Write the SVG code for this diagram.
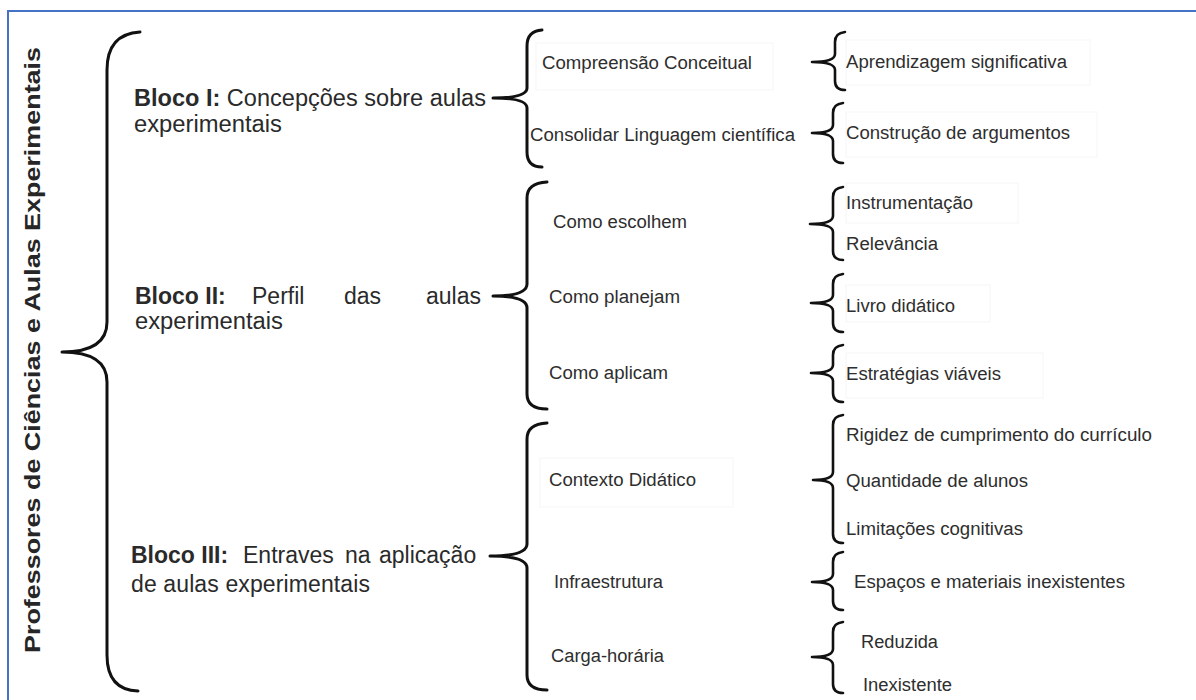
<svg xmlns="http://www.w3.org/2000/svg" width="1196" height="700" viewBox="0 0 1196 700">
<style>
.t{font-family:"Liberation Sans",Arial,sans-serif;font-size:18px;fill:#2e2e2e}
.b{font-family:"Liberation Sans",Arial,sans-serif;font-size:23px;fill:#2a2a2a}
.bd{font-weight:bold}
.ttl{font-family:"Liberation Sans",Arial,sans-serif;font-size:22px;font-weight:bold;fill:#262626}
.br{fill:none;stroke:#111;stroke-width:2.6;stroke-linecap:round;stroke-linejoin:round}
.bb{fill:none;stroke:#111;stroke-width:3;stroke-linecap:round;stroke-linejoin:round}
.fb{fill:none;stroke:#f6f6f6;stroke-width:1}
</style>
<rect x="0" y="0" width="1196" height="700" fill="#fff"/>
<rect x="8" y="11" width="1200" height="700" fill="none" stroke="#4472C4" stroke-width="2"/>

<g id="faint-boxes">
<rect class="fb" x="536" y="43" width="237" height="47"/>
<rect class="fb" x="846" y="40" width="244" height="45"/>
<rect class="fb" x="846" y="112" width="251" height="45"/>
<rect class="fb" x="846" y="183" width="172" height="40"/>
<rect class="fb" x="846" y="285" width="144" height="37"/>
<rect class="fb" x="846" y="353" width="197" height="45"/>
<rect class="fb" x="540" y="458" width="193" height="49"/>
</g>

<g id="connectors">
<path class="bb" d="M140,32 Q107,34 107,70 L107,322 Q107,352 62,352 Q107,352 107,382 L107,655 Q107,690 138,691"/>
<path class="bb" d="M542,30 Q527,31 527,46 L527,88 Q527,98 493,98 Q527,98 527,108 L527,152 Q527,167 542,167"/>
<path class="bb" d="M547,182 Q527,183 527,198 L527,284 Q527,296 493,296 Q527,296 527,308 L527,394 Q527,409 547,409"/>
<path class="bb" d="M547,423 Q527,424 527,439 L527,544 Q527,556 490,556 Q527,556 527,568 L527,675 Q527,690 547,690"/>
<path class="br" d="M845,32 Q835,33 835,42 L835,54 Q835,62 812,62 Q835,62 835,70 L835,81 Q835,90 845,90"/>
<path class="br" d="M843,103 Q833,104 833,113 L833,125 Q833,133 812,133 Q833,133 833,141 L833,154 Q833,163 843,163"/>
<path class="br" d="M843,187 Q833,188 833,197 L833,216 Q833,224 810,224 Q833,224 833,232 L833,251 Q833,260 843,260"/>
<path class="br" d="M843,274 Q833,275 833,284 L833,295 Q833,303 811,303 Q833,303 833,311 L833,323 Q833,332 843,332"/>
<path class="br" d="M843,345 Q833,346 833,355 L833,365 Q833,373 811,373 Q833,373 833,381 L833,393 Q833,402 843,402"/>
<path class="br" d="M843,415 Q833,416 833,425 L833,472 Q833,480 813,480 Q833,480 833,488 L833,534 Q833,543 843,543"/>
<path class="br" d="M843,552 Q833,553 833,562 L833,574 Q833,582 812,582 Q833,582 833,590 L833,601 Q833,610 843,610"/>
<path class="br" d="M843,622 Q833,623 833,632 L833,649 Q833,657 812,657 Q833,657 833,665 L833,684 Q833,693 843,693"/>
</g>

<g id="title">
<text class="ttl" transform="translate(40,653) rotate(-90)" x="0" y="0" textLength="606" lengthAdjust="spacingAndGlyphs">Professores de Ciências e Aulas Experimentais</text>
</g>

<g id="bloco1">
<text class="b" x="134" y="106" textLength="352" lengthAdjust="spacingAndGlyphs"><tspan class="bd">Bloco I:</tspan> Concepções sobre aulas</text>
<text class="b" x="134" y="132" textLength="148" lengthAdjust="spacingAndGlyphs">experimentais</text>
</g>
<g id="bloco2">
<text class="b bd" x="135" y="304">Bloco II:</text>
<text class="b" x="252" y="304">Perfil</text>
<text class="b" x="344" y="304">das</text>
<text class="b" x="426" y="304">aulas</text>
<text class="b" x="135" y="329" textLength="148" lengthAdjust="spacingAndGlyphs">experimentais</text>
</g>
<g id="bloco3">
<text class="b bd" x="131" y="563">Bloco III:</text>
<text class="b" x="243" y="563">Entraves</text>
<text class="b" x="345" y="563">na</text>
<text class="b" x="379" y="563">aplicação</text>
<text class="b" x="131" y="592" textLength="239" lengthAdjust="spacing">de aulas experimentais</text>
</g>

<g id="compreensao"><text class="t" x="542" y="69" textLength="210" lengthAdjust="spacingAndGlyphs">Compreensão Conceitual</text></g>
<g id="consolidar"><text class="t" x="530" y="141" textLength="265" lengthAdjust="spacingAndGlyphs">Consolidar Linguagem científica</text></g>
<g id="aprendizagem"><text class="t" x="846" y="68" textLength="221" lengthAdjust="spacingAndGlyphs">Aprendizagem significativa</text></g>
<g id="construcao"><text class="t" x="846" y="139" textLength="224" lengthAdjust="spacingAndGlyphs">Construção de argumentos</text></g>

<g id="escolhem"><text class="t" x="553" y="228" textLength="134" lengthAdjust="spacingAndGlyphs">Como escolhem</text></g>
<g id="planejam"><text class="t" x="549" y="303" textLength="131" lengthAdjust="spacingAndGlyphs">Como planejam</text></g>
<g id="aplicam"><text class="t" x="549" y="379" textLength="119" lengthAdjust="spacingAndGlyphs">Como aplicam</text></g>
<g id="instrumentacao"><text class="t" x="846" y="209" textLength="127" lengthAdjust="spacingAndGlyphs">Instrumentação</text></g>
<g id="relevancia"><text class="t" x="846" y="250" textLength="92" lengthAdjust="spacingAndGlyphs">Relevância</text></g>
<g id="livro"><text class="t" x="846" y="312" textLength="109" lengthAdjust="spacingAndGlyphs">Livro didático</text></g>
<g id="estrategias"><text class="t" x="846" y="380" textLength="155" lengthAdjust="spacingAndGlyphs">Estratégias viáveis</text></g>

<g id="contexto"><text class="t" x="549" y="486" textLength="147" lengthAdjust="spacingAndGlyphs">Contexto Didático</text></g>
<g id="infraestrutura"><text class="t" x="554" y="588" textLength="109" lengthAdjust="spacingAndGlyphs">Infraestrutura</text></g>
<g id="carga"><text class="t" x="551" y="662" textLength="113" lengthAdjust="spacingAndGlyphs">Carga-horária</text></g>
<g id="rigidez"><text class="t" x="846" y="441" textLength="306" lengthAdjust="spacingAndGlyphs">Rigidez de cumprimento do currículo</text></g>
<g id="quantidade"><text class="t" x="846" y="487" textLength="182" lengthAdjust="spacingAndGlyphs">Quantidade de alunos</text></g>
<g id="limitacoes"><text class="t" x="846" y="535" textLength="177" lengthAdjust="spacingAndGlyphs">Limitações cognitivas</text></g>
<g id="espacos"><text class="t" x="854" y="588" textLength="271" lengthAdjust="spacingAndGlyphs">Espaços e materiais inexistentes</text></g>
<g id="reduzida"><text class="t" x="861" y="648" textLength="77" lengthAdjust="spacingAndGlyphs">Reduzida</text></g>
<g id="inexistente"><text class="t" x="863" y="691" textLength="89" lengthAdjust="spacingAndGlyphs">Inexistente</text></g>
</svg>
